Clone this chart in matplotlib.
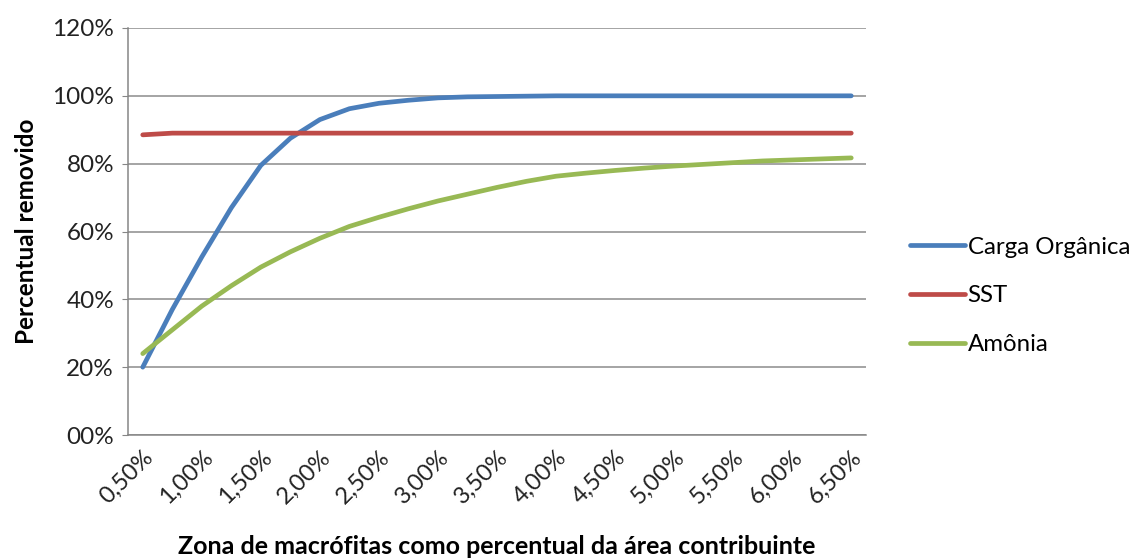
import matplotlib.pyplot as plt
import numpy as np

# dados (percentual removido)
area_labels = ['0,50%', '0,75%', '1,00%', '1,25%', '1,50%', '1,75%', '2,00%', '2,25%',
               '2,50%', '2,75%', '3,00%', '3,25%', '3,50%', '3,75%', '4,00%', '4,25%',
               '4,50%', '4,75%', '5,00%', '5,25%', '5,50%', '5,75%', '6,00%', '6,25%', '6,50%']
carga_organica = [20, 37, 52.5, 67, 79.5, 87.5, 93, 96.2, 97.8, 98.7, 99.4, 99.7, 99.8,
                  99.9, 100, 100, 100, 100, 100, 100, 100, 100, 100, 100, 100]
sst = [88.5] + [89] * 24
amonia = [24, 31, 38, 44, 49.5, 54, 58, 61.5, 64.2, 66.7, 69, 71, 73, 74.8, 76.3, 77.2,
          78, 78.7, 79.3, 79.8, 80.3, 80.8, 81.1, 81.4, 81.7]
y_ticks = [0, 20, 40, 60, 80, 100, 120]
y_labels = ['00%', '20%', '40%', '60%', '80%', '100%', '120%']

plt.rcParams['font.family'] = ['Lato', 'DejaVu Sans']

fig = plt.figure(figsize=(11.35, 5.58), dpi=100)
ax = fig.add_axes([128 / 1135, 1 - 435 / 558, (866 - 128) / 1135, (435 - 28) / 558])

x = np.arange(len(area_labels))
ax.plot(x, carga_organica, color='#4A7EBB', lw=3.4, label='Carga Orgânica', solid_capstyle='round')
ax.plot(x, sst, color='#BE4B48', lw=3.4, label='SST', solid_capstyle='round')
ax.plot(x, amonia, color='#98B954', lw=3.4, label='Amônia', solid_capstyle='round')

ax.set_xlim(-0.5, len(area_labels) - 0.5)
ax.set_ylim(0, 120)
ax.set_yticks(y_ticks)
ax.set_yticklabels(y_labels, fontsize=17.5, color='#222222')
ax.set_xticks(x[::2])
ax.set_xticklabels(area_labels[::2], rotation=45, ha='right', va='top',
                   rotation_mode='anchor', fontsize=17, color='#222222')
ax.tick_params(axis='x', length=0, pad=8)
ax.tick_params(axis='y', length=4, color='#868686', pad=6)

ax.grid(axis='y', color='#8c8c8c', lw=1.1)
ax.set_axisbelow(True)
for s in ['top', 'right']:
    ax.spines[s].set_visible(False)
for s in ['left', 'bottom']:
    ax.spines[s].set_color('#868686')
    ax.spines[s].set_linewidth(1.1)

ax.set_xlabel('Zona de macrófitas como percentual da área contribuinte',
              fontsize=18, fontweight='bold', labelpad=20)
ax.set_ylabel('Percentual removido', fontsize=17.5, fontweight='bold', labelpad=10)

fig.legend(loc='center left', bbox_to_anchor=(910 / 1135, 1 - 296 / 558), frameon=False,
           fontsize=17.3, handlelength=2.3, handletextpad=0.1, labelspacing=1.15,
           borderpad=0, borderaxespad=0)

fig.savefig('out.png', dpi=100)
